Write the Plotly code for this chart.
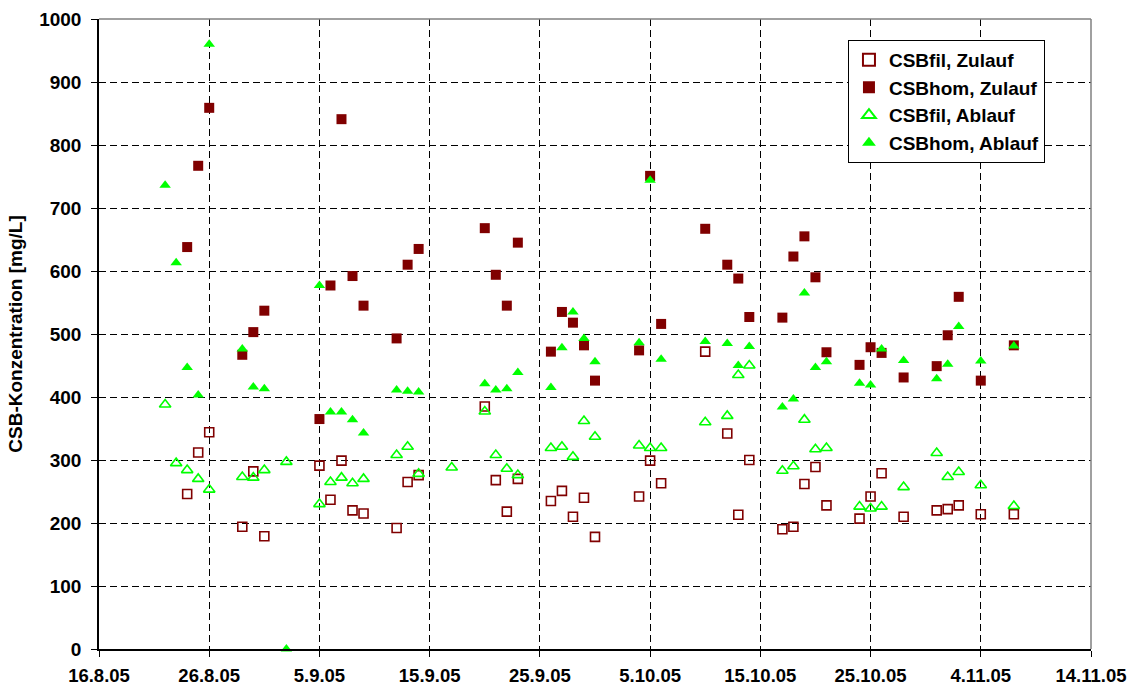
import plotly.graph_objects as go

# Probenahmetage 2005
dates = [
    "2005-08-22", "2005-08-23", "2005-08-24", "2005-08-25", "2005-08-26",
    "2005-08-29", "2005-08-30", "2005-08-31", "2005-09-02", "2005-09-05",
    "2005-09-06", "2005-09-07", "2005-09-08", "2005-09-09", "2005-09-12",
    "2005-09-13", "2005-09-14", "2005-09-17", "2005-09-20", "2005-09-21",
    "2005-09-22", "2005-09-23", "2005-09-26", "2005-09-27", "2005-09-28",
    "2005-09-29", "2005-09-30", "2005-10-04", "2005-10-05", "2005-10-06",
    "2005-10-10", "2005-10-12", "2005-10-13", "2005-10-14", "2005-10-17",
    "2005-10-18", "2005-10-19", "2005-10-20", "2005-10-21", "2005-10-24",
    "2005-10-25", "2005-10-26", "2005-10-28", "2005-10-31", "2005-11-01",
    "2005-11-02", "2005-11-04", "2005-11-07",
]

# CSB-Konzentrationen [mg/L]
csb_fil_zulauf = [
    None, None, 246, 312, 344, 194, 282, 179, None, 291,
    237, 299, 220, 215, 192, 265, 276, None, 385, 268,
    218, 270, 235, 251, 210, 240, 178, 242, 299, 263,
    472, 342, 213, 300, 190, 194, 262, 289, 228, 207,
    242, 279, 210, 220, 222, 228, 214, 214,
]
csb_hom_zulauf = [
    None, None, 638, 767, 859, 467, 503, 537, None, 365,
    577, 841, 592, 545, 493, 610, 635, None, 668, 594,
    545, 645, 472, 535, 518, 482, 426, 474, 751, 516,
    667, 610, 588, 527, 526, 623, 655, 590, 471, 451,
    479, 470, 431, 449, 498, 559, 426, 482,
]
csb_fil_ablauf = [
    388, 295, 284, 270, 253, 273, 272, 284, 297, 230,
    265, 272, 263, 270, 308, 321, 278, 288, 377, 308,
    286, 276, 319, 321, 305, 362, 337, 323, 319, 319,
    360, 370, 435, 450, 283, 290, 364, 317, 319, 226,
    223, 226, 257, 311, 273, 281, 260, 227,
]
csb_hom_ablauf = [
    736, 613, 447, 403, 960, 476, 416, 413, 0, 577,
    376, 376, 364, 343, 411, 409, 408, None, 421, 411,
    413, 439, 415, 478, 535, 493, 456, 486, 744, 460,
    488, 485, 450, 480, 384, 397, 565, 447, 456, 422,
    419, 476, 458, 429, 452, 512, 457, 481,
]

# Achsenbeschriftung
x_tickvals = ["2005-08-16", "2005-08-26", "2005-09-05", "2005-09-15", "2005-09-25",
              "2005-10-05", "2005-10-15", "2005-10-25", "2005-11-04", "2005-11-14"]
x_ticktext = ["16.8.05", "26.8.05", "5.9.05", "15.9.05", "25.9.05",
              "5.10.05", "15.10.05", "25.10.05", "4.11.05", "14.11.05"]
y_tickvals = [0, 100, 200, 300, 400, 500, 600, 700, 800, 900, 1000]

DARKRED = "#800000"
GREEN = "#00FF00"
FONT = "Liberation Sans, Arial, sans-serif"

fig = go.Figure()

series = [
    ("CSBfil, Zulauf", csb_fil_zulauf,
     dict(symbol="square-open", size=9, color=DARKRED, line=dict(width=1.6, color=DARKRED))),
    ("CSBhom, Zulauf", csb_hom_zulauf,
     dict(symbol="square", size=10, color=DARKRED, line=dict(width=0))),
    ("CSBfil, Ablauf", csb_fil_ablauf,
     dict(symbol="triangle-up-open", size=10, color=GREEN, line=dict(width=1.6, color=GREEN))),
    ("CSBhom, Ablauf", csb_hom_ablauf,
     dict(symbol="triangle-up", size=10, color=GREEN, line=dict(width=0))),
]
for i, (name, values, marker) in enumerate(series):
    fig.add_trace(go.Scatter(
        x=dates, y=values, name=name, mode="markers", marker=marker,
        legendgroup=f"g{i}", cliponaxis=False,
    ))

grid = dict(showgrid=True, gridcolor="#000000", gridwidth=1, griddash="7px,4px")

fig.update_layout(
    width=1136, height=690,
    margin=dict(l=99, r=45, t=19, b=41),
    paper_bgcolor="white", plot_bgcolor="white",
    font=dict(family=FONT, size=19, color="black", weight="bold"),
    showlegend=True,
    legend=dict(
        x=0.755, y=0.967, xanchor="left", yanchor="top",
        bgcolor="white", bordercolor="black", borderwidth=1,
        font=dict(family=FONT, size=19, color="black", weight="bold"),
        tracegroupgap=0, itemsizing="constant",
    ),
    xaxis=dict(
        type="date", range=["2005-08-16", "2005-11-14"], automargin=False,
        tickmode="array", tickvals=x_tickvals, ticktext=x_ticktext,
        ticks="outside", ticklen=6, tickcolor="black",
        showline=True, linecolor="black", linewidth=1.5,
        zeroline=False, **grid, ticklabelstandoff=3,
        tickfont=dict(family=FONT, size=18.5, color="black", weight="bold"),
    ),
    yaxis=dict(
        range=[0, 1000], tickmode="array", tickvals=y_tickvals, automargin=False,
        ticks="outside", ticklen=6, tickcolor="black",
        showline=True, linecolor="black", linewidth=1.5,
        zeroline=False, **grid, ticklabelstandoff=6,
        tickfont=dict(family=FONT, size=19, color="black", weight="bold"),
        title=dict(text="CSB-Konzentration [mg/L]", standoff=12,
                   font=dict(family=FONT, size=19, color="black", weight="bold")),
    ),
    shapes=[
        dict(type="line", xref="paper", yref="paper", x0=0, x1=1, y0=1, y1=1,
             line=dict(color="#808080", width=1.5)),
        dict(type="line", xref="paper", yref="paper", x0=1, x1=1, y0=0, y1=1,
             line=dict(color="#808080", width=1.5)),
    ],
)

fig.write_html("out.html")
